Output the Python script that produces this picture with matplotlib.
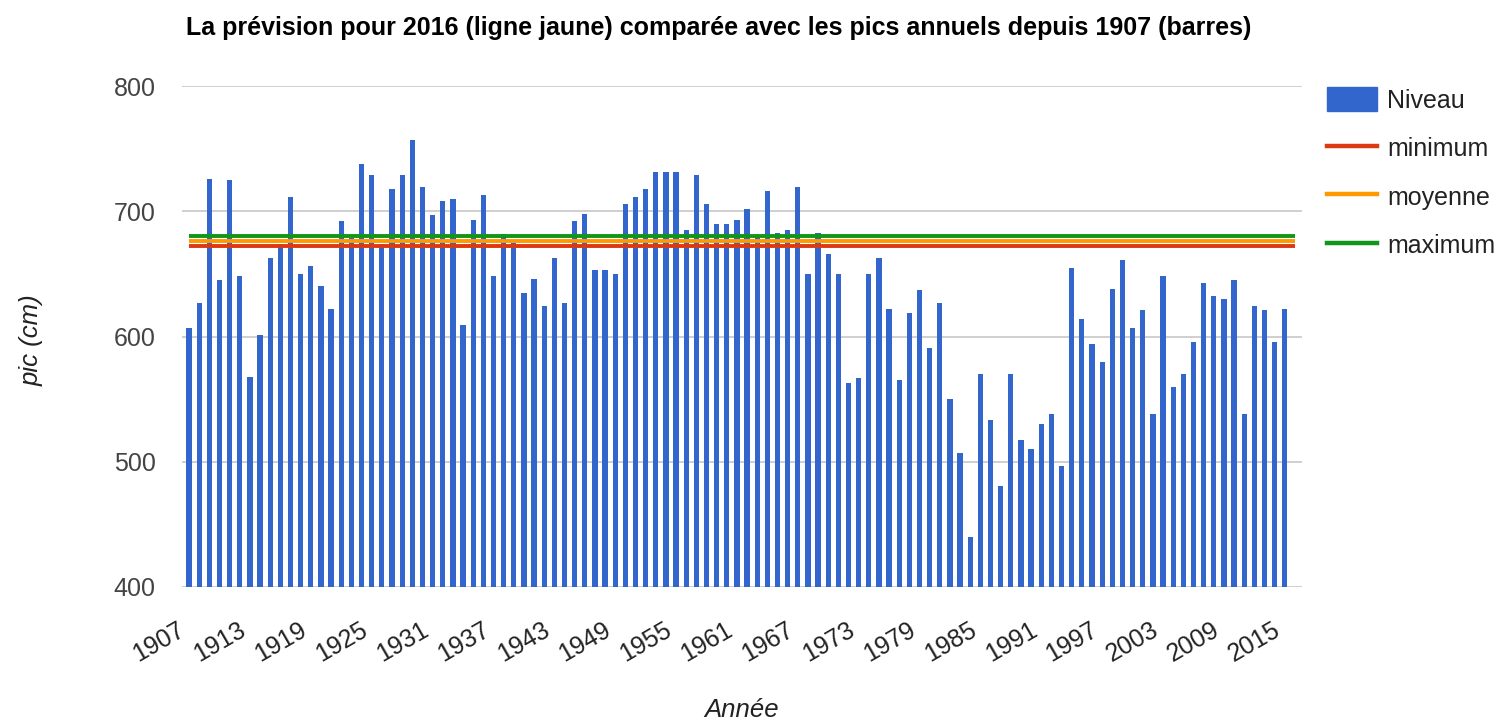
import numpy as np
import matplotlib.pyplot as plt
from matplotlib.patches import Patch
from matplotlib.lines import Line2D

plt.rcParams['font.family'] = ['Liberation Sans', 'DejaVu Sans']

years = list(range(1907, 2016))
niveau = [
    607, 627, 726, 645, 725, 648, 568, 601, 663, 674,   # 1907-1916
    711, 650, 656, 640, 622, 692, 679, 738, 729, 674,   # 1917-1926
    718, 729, 757, 719, 697, 708, 710, 609, 693, 713,   # 1927-1936
    648, 682, 675, 635, 646, 624, 663, 627, 692, 698,   # 1937-1946
    653, 653, 650, 706, 711, 718, 731, 731, 731, 685,   # 1947-1956
    729, 706, 690, 690, 693, 702, 680, 716, 683, 685,   # 1957-1966
    719, 650, 683, 666, 650, 563, 567, 650, 663, 622,   # 1967-1976
    565, 619, 637, 591, 627, 550, 507, 440, 570, 533,   # 1977-1986
    481, 570, 517, 510, 530, 538, 497, 655, 614, 594,   # 1987-1996
    580, 638, 661, 607, 621, 538, 648, 560, 570, 596,   # 1997-2006
    643, 632, 630, 645, 538, 624, 621, 596, 622,        # 2007-2015
]
minimum = 672
moyenne = 676
maximum = 680
tick_years = list(range(1907, 2016, 6))
yticks = [400, 500, 600, 700, 800]

blue = '#3366cc'
red = '#dc3912'
orange = '#ff9900'
green = '#109618'
grey = '#444444'

fig = plt.figure(figsize=(15.07, 7.24), dpi=100)
ax = fig.add_axes([182 / 1507, 1 - 587 / 724, (1302 - 182) / 1507, (587 - 86) / 724])

ax.bar(years, niveau, width=0.52, color=blue, zorder=2)
ax.hlines(minimum, 1907, 2016, color=red, lw=2.8, zorder=3)
ax.hlines(moyenne, 1907, 2016, color=orange, lw=2.8, zorder=3)
ax.hlines(maximum, 1907, 2016, color=green, lw=2.8, zorder=3)

ax.set_xlim(1906.3, 2016.7)
ax.set_ylim(400, 800)
ax.set_yticks(yticks)
ax.set_xticks(tick_years)
ax.set_xticklabels([str(y) for y in tick_years], rotation=30, ha='right')
ax.tick_params(axis='y', length=0, pad=19, labelsize=18, labelcolor=grey)
ax.tick_params(axis='x', length=0, pad=22, labelsize=18, labelcolor='#222222')
ax.grid(axis='y', color='#cccccc', lw=1.3, zorder=0)
ax.set_axisbelow(True)
for s in ax.spines.values():
    s.set_visible(False)

fig.text(719 / 1507, 1 - 28 / 724, "La prévision pour 2016 (ligne jaune) comparée avec les pics annuels depuis 1907 (barres)",
         ha='center', va='center', fontsize=18, fontweight='bold', color='black')
fig.text(32 / 1507, 1 - 340 / 724, "pic (cm)", rotation=90, ha='center', va='center',
         fontsize=18.5, style='italic', color='#222222')
fig.text(742 / 1507, 1 - 710 / 724, "Année", ha='center', va='center',
         fontsize=18.5, style='italic', color='#222222')

handles = [Patch(color=blue, label='Niveau'),
           Line2D([], [], color=red, lw=3.2, label='minimum'),
           Line2D([], [], color=orange, lw=3.2, label='moyenne'),
           Line2D([], [], color=green, lw=3.2, label='maximum')]
fig.legend(handles=handles, loc='upper left', bbox_to_anchor=(1327 / 1507, 1 - 87 / 724),
           frameon=False, fontsize=18, handlelength=2.0, handleheight=1.1,
           handletextpad=0.4, labelspacing=0.92, borderpad=0, borderaxespad=0,
           labelcolor='#222222')

fig.savefig('out.png', dpi=100)
